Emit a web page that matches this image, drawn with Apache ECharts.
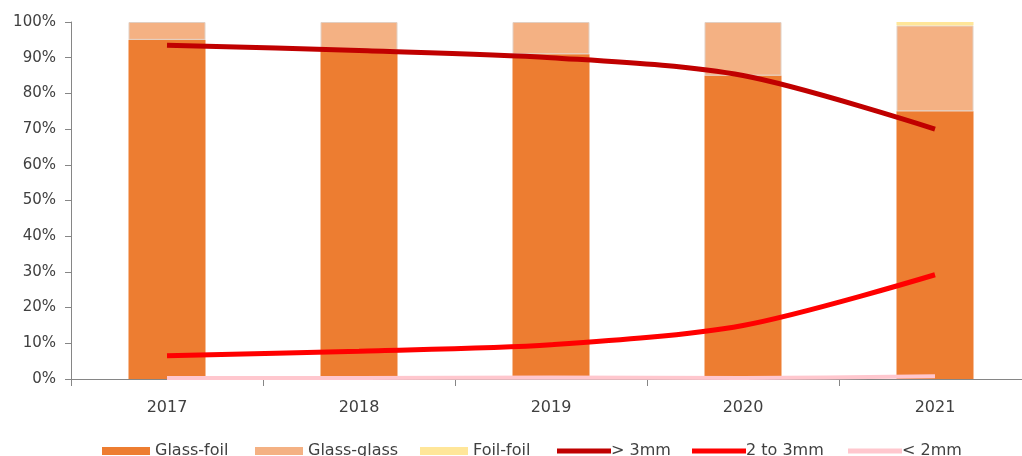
<!DOCTYPE html>
<html>
<head>
<meta charset="utf-8">
<script src="https://cdn.jsdelivr.net/npm/echarts@6/dist/echarts.min.js"></script>
<style>
  html, body { margin: 0; padding: 0; background: #fff; overflow: hidden; }
  #chart { width: 1031px; height: 456px; }
</style>
</head>
<body>
<div id="chart"></div>
<script>
// Module technology shares by year (stacked bars) and thickness shares (lines), in %
const years = ['2017', '2018', '2019', '2020', '2021'];
const glassFoil  = [95, 92, 91, 85, 75];
const glassGlass = [5, 8, 9, 15, 24];
const foilFoil   = [0, 0, 0, 0, 1];
const over3mm    = [93.5, 92, 90, 85, 70];
const from2to3mm = [6.5, 7.8, 9.6, 15, 29.2];
const under2mm   = [0.3, 0.3, 0.4, 0.3, 0.8];
const yTicks = [0, 10, 20, 30, 40, 50, 60, 70, 80, 90, 100];

const FONT = 'DejaVu Sans';
const TEXT = '#404040';
const chart = echarts.init(document.getElementById('chart'));

const barSeries = (name, data, color, border) => ({
  name, type: 'bar', stack: 'tech', data, barWidth: 77,
  itemStyle: border ? { color, borderColor: border, borderWidth: 1 } : { color },
  z: 2
});
const lineSeries = (name, data, color, width) => ({
  name, type: 'line', data, smooth: 0.3, symbol: 'none',
  lineStyle: { color, width }, itemStyle: { color }, z: 5
});

// one legend entry per block so each sits at its own spot along the bottom;
// bar swatches keep a small gap before the text, line swatches run into it
const legendEntry = (name, left, isBar) => ({
  data: [{ name, icon: 'rect', itemStyle: { borderWidth: 0 } }],
  left, top: 443, padding: 0,
  itemWidth: isBar ? 48 : 54, itemHeight: isBar ? 8 : 5,
  textStyle: { fontFamily: FONT, fontSize: 16, color: TEXT, padding: [0, 0, 0, isBar ? 0 : -5] }
});

chart.setOption({
  animation: false,
  grid: { left: 71, right: 0, top: 22, bottom: 77 },
  legend: [
    legendEntry('Glass-foil', 102, true),
    legendEntry('Glass-glass', 255, true),
    legendEntry('Foil-foil', 420, true),
    legendEntry('> 3mm', 557, false),
    legendEntry('2 to 3mm', 692, false),
    legendEntry('< 2mm', 848, false)
  ],
  xAxis: {
    type: 'category', data: years,
    axisLine: { lineStyle: { color: '#868686', width: 1 } },
    axisTick: { show: true, length: 7, lineStyle: { color: '#868686' } },
    axisLabel: { fontFamily: FONT, fontSize: 16, color: TEXT, margin: 21 }
  },
  yAxis: {
    type: 'value', min: yTicks[0], max: yTicks[yTicks.length - 1], interval: 10,
    axisLine: { show: true, lineStyle: { color: '#868686', width: 1 } },
    axisTick: { show: true, length: 6, lineStyle: { color: '#868686' } },
    splitLine: { show: false },
    axisLabel: { fontFamily: FONT, fontSize: 15, color: TEXT, margin: 15, formatter: '{value}%' }
  },
  series: [
    barSeries('Glass-foil', glassFoil, '#ED7D31'),
    barSeries('Glass-glass', glassGlass, '#F4B183', '#E2CFC2'),
    barSeries('Foil-foil', foilFoil, '#FFE699'),
    lineSeries('> 3mm', over3mm, '#C00000', 5),
    lineSeries('2 to 3mm', from2to3mm, '#FF0000', 5),
    lineSeries('< 2mm', under2mm, '#FFC7CE', 4)
  ]
});
</script>
</body>
</html>
